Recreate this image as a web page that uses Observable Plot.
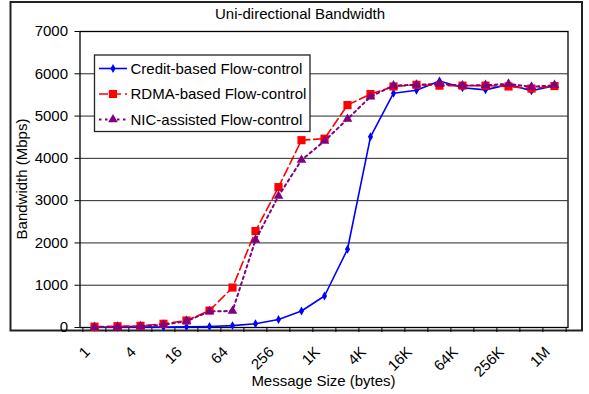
<!DOCTYPE html>
<html>
<head>
<meta charset="utf-8">
<script src="https://cdn.jsdelivr.net/npm/d3@7"></script>
<script src="https://cdn.jsdelivr.net/npm/@observablehq/plot@0.6"></script>
<style>
  body { margin: 0; background: white; }
  svg { display: block; }
</style>
</head>
<body>
<div id="chart"></div>
<script>
const sizes = ["1","2","4","8","16","32","64","128","256","512","1K","2K","4K","8K","16K","32K","64K","128K","256K","512K","1M"];
const tickLabels = ["1","4","16","64","256","1K","4K","16K","64K","256K","1M"];
const yTicks = [0,1000,2000,3000,4000,5000,6000,7000];

const credit = [5,5,10,10,15,25,45,90,190,390,745,1850,4510,5540,5610,5830,5670,5620,5750,5600,5720];
const rdma   = [20,30,40,88,165,400,945,2280,3320,4430,4465,5260,5520,5700,5740,5720,5720,5720,5700,5650,5710];
const nic    = [10,15,25,65,150,380,390,2070,3110,3960,4410,4930,5460,5720,5740,5760,5720,5730,5760,5690,5730];

const seriesNames = ["Credit-based Flow-control","RDMA-based Flow-control","NIC-assisted Flow-control"];
const colors = ["#0000ff","#ff0000","#800080"];

const W = 589, H = 394;
const mL = 79.5, mR = 21.5, mT = 31, mB = 67;
const step = (W - mL - mR) / sizes.length;
const font = "'Liberation Sans', Arial, Helvetica, sans-serif";

const xi = (d, i) => sizes[i];

const chart = Plot.plot({
  width: W, height: H,
  marginLeft: mL, marginRight: mR, marginTop: mT, marginBottom: mB,
  style: {fontFamily: font, fontSize: "15px", background: "white", color: "black"},
  x: {type: "point", domain: sizes, padding: 0.5, axis: null},
  y: {domain: [0, 7000], axis: null},
  marks: [
    Plot.frame({stroke: "#222", strokeWidth: 2, insetLeft: -(mL - 10), insetTop: -(mT - 1.5), insetRight: -(mR - 7.5), insetBottom: -(mB - 64)}),
    Plot.gridY(yTicks, {stroke: "#111", strokeOpacity: 0.9, strokeWidth: 1}),
    Plot.axisY({ticks: yTicks, tickSize: 5, tickPadding: 7, fontSize: 15, label: null, stroke: "black", tickFormat: d => String(d)}),
    Plot.axisX({ticks: sizes, tickSize: 5, tickFormat: () => "", label: null, dx: -step / 2, stroke: "black"}),
    Plot.axisX({ticks: [sizes[sizes.length - 1]], tickSize: 5, tickFormat: () => "", label: null, dx: step / 2, stroke: "black"}),
    Plot.text(tickLabels, {x: d => d, frameAnchor: "bottom", dy: 22, dx: -7, rotate: -45, textAnchor: "end", lineAnchor: "middle", fontSize: 15, fill: "black"}),
    Plot.frame({stroke: "black", strokeWidth: 1.3}),
    Plot.line(credit, {x: xi, y: d => d, stroke: colors[0], strokeWidth: 1.6}),
    Plot.dot(credit, {x: xi, y: d => d, symbol: "diamond", r: 2.7, fill: colors[0], stroke: "none"}),
    Plot.line(rdma, {x: xi, y: d => d, stroke: colors[1], strokeWidth: 1.6, strokeDasharray: "9,4"}),
    Plot.dot(rdma, {x: xi, y: d => d, symbol: "square", r: 4.6, fill: colors[1], stroke: "none"}),
    Plot.line(nic, {x: xi, y: d => d, stroke: colors[2], strokeWidth: 2, strokeDasharray: "2.5,3.5"}),
    Plot.dot(nic, {x: xi, y: d => d, symbol: "triangle", r: 3.6, fill: colors[2], stroke: "none"})
  ]
});

document.getElementById("chart").appendChild(chart);

const svg = d3.select(chart);

// Title and axis labels
svg.append("text").attr("x", 300).attr("y", 18.5).attr("text-anchor", "middle")
  .attr("font-family", font).attr("font-size", 15).attr("fill", "black").text("Uni-directional Bandwidth");
svg.append("text").attr("transform", "translate(27,179) rotate(-90)").attr("text-anchor", "middle")
  .attr("font-family", font).attr("font-size", 15).attr("fill", "black").text("Bandwidth (Mbps)");
svg.append("text").attr("x", 323.5).attr("y", 386).attr("text-anchor", "middle")
  .attr("font-family", font).attr("font-size", 15).attr("fill", "black").text("Message Size (bytes)");

// Legend
const lg = svg.append("g");
lg.append("rect").attr("x", 94.5).attr("y", 55).attr("width", 215.5).attr("height", 76.5)
  .attr("fill", "white").attr("stroke", "#222").attr("stroke-width", 1.3);
const rowY = [68.5, 94, 119.5];
const dashes = [null, "9,4", "2.5,3.5"];
const widths = [1.6, 1.6, 2];
const syms = [
  d3.symbol(d3.symbolDiamond, Math.PI * 2.7 * 2.7),
  d3.symbol(d3.symbolSquare, Math.PI * 4.6 * 4.6),
  d3.symbol(d3.symbolTriangle, Math.PI * 3.6 * 3.6)
];
seriesNames.forEach((name, i) => {
  const y = rowY[i];
  const ln = lg.append("line").attr("x1", 99).attr("x2", 127).attr("y1", y).attr("y2", y)
    .attr("stroke", colors[i]).attr("stroke-width", widths[i]);
  if (dashes[i]) ln.attr("stroke-dasharray", dashes[i]);
  lg.append("path").attr("d", syms[i]()).attr("transform", `translate(113,${y})`).attr("fill", colors[i]);
  lg.append("text").attr("x", 130.5).attr("y", y).attr("dy", "0.35em").attr("text-anchor", "start")
    .attr("font-family", font).attr("font-size", 15).attr("fill", "black").text(name);
});
</script>
</body>
</html>
